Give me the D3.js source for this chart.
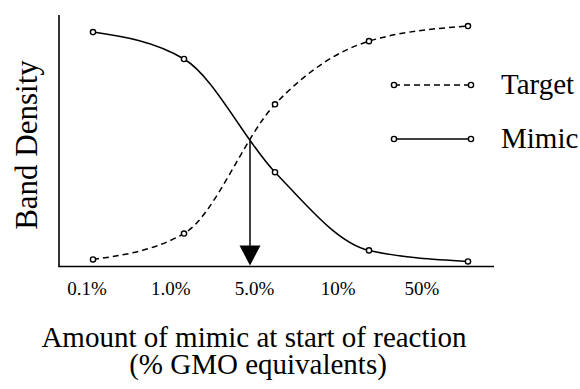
<!DOCTYPE html>
<html>
<head>
<meta charset="utf-8">
<script src="https://cdn.jsdelivr.net/npm/d3@7"></script>
<style>
  body { margin: 0; background: #fff; font-family: 'Liberation Serif', serif; }
  svg { display: block; }
</style>
</head>
<body>
<div id="chart"></div>
<script>
/*
 * data (band density, 0..1)
 */
const categories = ['0.1%', '1.0%', '5.0%', '10%', '50%']
const target = [0.028, 0.131, 0.645, 0.896, 0.956]
const mimic = [0.932, 0.825, 0.375, 0.064, 0.02]
const seriesNames = ['Target', 'Mimic']

const w = 580
const h = 389
const serif = 'Liberation Serif'

const svg = d3.select('#chart')
  .append('svg')
  .attr('width', w)
  .attr('height', h)
  .attr('font-family', serif)

// axis frame
const x0 = 59
const yBase = 266.5
const yTop = 15

// points sit a little unevenly along the axis in the original
const x = d3.scaleLinear().domain([0, 1, 2, 3, 4]).range([93, 184, 275, 369, 468])
const xLabel = d3.scaleLinear().domain([0, categories.length - 1]).range([87, 422])
const y = d3.scaleLinear().domain([0, 1]).range([yBase, yTop])

svg.append('line')
  .attr('x1', x0).attr('y1', yTop)
  .attr('x2', x0).attr('y2', yBase)
  .style('stroke', '#000').style('stroke-width', 1.6)
svg.append('line')
  .attr('x1', x0 - 0.8).attr('y1', yBase)
  .attr('x2', 494).attr('y2', yBase)
  .style('stroke', '#000').style('stroke-width', 1.6)

svg.append('g')
  .selectAll('text')
  .data(categories)
  .enter()
  .append('text')
  .attr('x', (d, i) => xLabel(i))
  .attr('y', 295)
  .attr('text-anchor', 'middle')
  .attr('font-family', serif)
  .attr('font-size', 19)
  .text(d => d)

/*
 * curves
 */
const line = d3.line()
  .x((d, i) => x(i))
  .y(d => y(d))
  .curve(d3.curveMonotoneX)

const targetPath = svg.append('path')
  .datum(target)
  .attr('d', line)
  .style('fill', 'none')
  .style('stroke', '#000')
  .style('stroke-width', 1.5)
  .style('stroke-dasharray', '6,4')

const mimicPath = svg.append('path')
  .datum(mimic)
  .attr('d', line)
  .style('fill', 'none')
  .style('stroke', '#000')
  .style('stroke-width', 1.5)

// sample both curves once, then find where they cross
function samples(path) {
  const node = path.node()
  const len = node.getTotalLength()
  const pts = []
  for (let k = 0; k <= 300; k++) pts.push(node.getPointAtLength(len * k / 300))
  return pts
}
function yAt(pts, px) {
  for (let k = 1; k < pts.length; k++) {
    if (pts[k].x >= px) {
      const a = pts[k - 1], b = pts[k]
      const t = (px - a.x) / ((b.x - a.x) || 1)
      return a.y + t * (b.y - a.y)
    }
  }
  return pts[pts.length - 1].y
}
const tPts = samples(targetPath)
const mPts = samples(mimicPath)
let cross = { x: x(2), y: y(0.5) }
for (let px = x(1); px < x(3); px += 0.5) {
  if (yAt(mPts, px) >= yAt(tPts, px)) { cross = { x: px, y: yAt(mPts, px) }; break }
}

svg.append('line')
  .attr('x1', cross.x).attr('y1', cross.y)
  .attr('x2', cross.x).attr('y2', yBase - 18)
  .style('stroke', '#000').style('stroke-width', 1.5)
svg.append('path')
  .attr('d', `M${cross.x - 10.5},${yBase - 21} L${cross.x + 10.5},${yBase - 21} L${cross.x},${yBase - 1} Z`)
  .style('fill', '#000')

// markers
const markers = [target, mimic]
markers.forEach(series => {
  svg.append('g')
    .selectAll('circle')
    .data(series)
    .enter()
    .append('circle')
    .attr('cx', (d, i) => x(i))
    .attr('cy', d => y(d))
    .attr('r', 2.6)
    .style('fill', '#fff')
    .style('stroke', '#000')
    .style('stroke-width', 1.4)
})

/*
 * legend
 */
const legend = svg.append('g')
  .selectAll('g')
  .data(seriesNames)
  .enter()
  .append('g')
  .attr('transform', (d, i) => `translate(0,${85 + i * 54})`)

legend.append('line')
  .attr('x1', 394).attr('x2', 471)
  .style('stroke', '#000')
  .style('stroke-width', 1.5)
  .style('stroke-dasharray', (d, i) => i == 0 ? '6,4' : null)
legend.selectAll('circle')
  .data([394, 471])
  .enter()
  .append('circle')
  .attr('cx', d => d)
  .attr('r', 2.6)
  .style('fill', '#fff')
  .style('stroke', '#000')
  .style('stroke-width', 1.4)
legend.append('text')
  .attr('x', 501)
  .attr('y', 9)
  .attr('font-family', serif)
  .attr('font-size', 29)
  .text(d => d)

/*
 * axis titles
 */
svg.append('text')
  .attr('transform', 'translate(37,145) rotate(-90)')
  .attr('text-anchor', 'middle')
  .attr('font-family', serif)
  .attr('font-size', 31)
  .text('Band Density')

svg.append('text')
  .attr('x', 254)
  .attr('y', 347)
  .attr('text-anchor', 'middle')
  .attr('font-family', serif)
  .attr('font-size', 29)
  .text('Amount of mimic at start of reaction')
svg.append('text')
  .attr('x', 258)
  .attr('y', 374)
  .attr('text-anchor', 'middle')
  .attr('font-family', serif)
  .attr('font-size', 29)
  .text('(% GMO equivalents)')
</script>
</body>
</html>
